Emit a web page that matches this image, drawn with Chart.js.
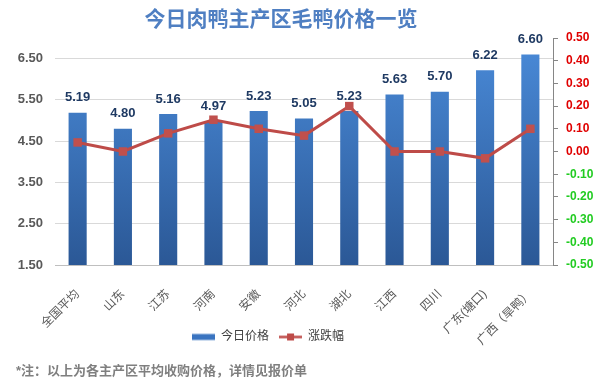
<!DOCTYPE html>
<html>
<head>
<meta charset="utf-8">
<script src="https://cdn.jsdelivr.net/npm/chart.js@4/dist/chart.umd.min.js"></script>
<style>
  html, body { margin: 0; padding: 0; background: #fff; }
</style>
</head>
<body>
<canvas id="duck_chart" width="596" height="389"></canvas>
<script>
// data
var regions = ['全国平均', '山东', '江苏', '河南', '安徽', '河北', '湖北', '江西', '四川', '广东(塘口)', '广西（旱鸭）']
var prices = [5.19, 4.80, 5.16, 4.97, 5.23, 5.05, 5.23, 5.63, 5.70, 6.22, 6.60]
var changes = [0.04, 0.00, 0.08, 0.14, 0.10, 0.07, 0.20, 0.00, 0.00, -0.03, 0.10]
var price_ticks = [1.5, 2.5, 3.5, 4.5, 5.5, 6.5]
var change_ticks = [-0.5, -0.4, -0.3, -0.2, -0.1, 0, 0.1, 0.2, 0.3, 0.4, 0.5]
var title_text = '今日肉鸭主产区毛鸭价格一览'
var note_text = '*注：以上为各主产区平均收购价格，详情见报价单'

var FONT = "'Liberation Sans', 'Noto Sans CJK SC', sans-serif"
var BAR_COLOR = '#3a74c0'
var LINE_COLOR = '#be4b48'

// small legend icons
function legendIcon(kind){
  var c = document.createElement('canvas')
  c.width = 23
  c.height = 9
  var g = c.getContext('2d')
  if (kind == 'bar') {
    g.fillStyle = BAR_COLOR
    g.fillRect(0, 1.5, 23, 6)
  } else {
    g.strokeStyle = LINE_COLOR
    g.lineWidth = 2.5
    g.beginPath(); g.moveTo(0, 4.5); g.lineTo(23, 4.5); g.stroke()
    g.fillStyle = LINE_COLOR
    g.fillRect(8, 1, 7, 7)
  }
  return c
}

// title, footnote and bar value labels
var textPlugin = {
  id: 'textPlugin',
  afterLayout(chart){
    // legend sits a bit left of centre in the original
    chart.legend.left -= 30
    chart.legend.right -= 30
  },
  afterDatasetsDraw(chart){
    var ctx = chart.ctx
    ctx.save()
    ctx.fillStyle = '#1f3a63'
    ctx.font = 'bold 13px ' + FONT
    ctx.textAlign = 'center'
    ctx.textBaseline = 'middle'
    chart.getDatasetMeta(1).data.forEach(function(bar, i){
      ctx.fillText(prices[i].toFixed(2), bar.x, bar.y - 15)
    })
    ctx.restore()
  },
  afterDraw(chart){
    var ctx = chart.ctx
    ctx.save()
    ctx.textBaseline = 'middle'
    ctx.textAlign = 'center'
    ctx.fillStyle = '#4f7fc2'
    ctx.font = 'bold 21px ' + FONT
    ctx.fillText(title_text, 281, 20)
    ctx.textAlign = 'left'
    ctx.fillStyle = '#7f7f7f'
    ctx.font = 'bold 13px ' + FONT
    ctx.fillText(note_text, 16, 371)
    ctx.restore()
  }
}

var duck_canvas = document.getElementById('duck_chart')
var duck_chart = new Chart(duck_canvas.getContext('2d'), {
  type: 'bar',
  data: {
    labels: regions,
    datasets: [{
      type: 'line',
      label: '涨跌幅',
      data: changes,
      yAxisID: 'y1',
      borderColor: LINE_COLOR,
      backgroundColor: LINE_COLOR,
      borderWidth: 3,
      pointStyle: 'rect',
      pointRadius: 6,
      pointBackgroundColor: '#c0504d',
      pointBorderWidth: 0,
      tension: 0
    }, {
      label: '今日价格',
      data: prices,
      yAxisID: 'y',
      backgroundColor: function(ctx){
        var area = ctx.chart.chartArea
        if (!area) return BAR_COLOR
        var g = ctx.chart.ctx.createLinearGradient(0, area.top, 0, area.bottom)
        g.addColorStop(0, '#4a8bd9')
        g.addColorStop(1, '#2b5896')
        return g
      },
      barPercentage: 0.4,
      categoryPercentage: 1
    }]
  },
  options: {
    responsive: false,
    animation: false,
    layout: { padding: { top: 38, bottom: 36, left: 0, right: 0 } },
    plugins: {
      tooltip: { enabled: false },
      legend: {
        position: 'bottom',
        labels: {
          usePointStyle: true,
          pointStyleWidth: 23,
          boxHeight: 9,
          padding: 10,
          color: '#404040',
          font: { family: FONT, size: 12 },
          generateLabels: function(){
            return [
              { text: '今日价格', pointStyle: legendIcon('bar'), fontColor: '#404040', datasetIndex: 1, lineWidth: 0, hidden: false },
              { text: '涨跌幅', pointStyle: legendIcon('line'), fontColor: '#404040', datasetIndex: 0, lineWidth: 0, hidden: false }
            ]
          }
        }
      }
    },
    scales: {
      x: {
        grid: { display: false },
        border: { display: true, color: '#bfbfbf' },
        ticks: {
          color: '#595959',
          font: { family: FONT, size: 12 },
          minRotation: 45,
          maxRotation: 45,
          padding: 14,
          autoSkip: false
        },
        afterFit: function(scale){
          scale.height = 56
          // let the slanted labels run down past the axis box, as in the original
          scale._computeLabelArea = function(){}
        }
      },
      y: {
        position: 'left',
        min: 1.5,
        max: 7.0,
        border: { display: false },
        grid: { color: '#d9d9d9', drawTicks: false },
        ticks: {
          color: '#595959',
          padding: 12,
          font: { family: FONT, size: 13, weight: 'bold' },
          callback: function(v){ return Number(v).toFixed(2) }
        },
        afterBuildTicks: function(scale){
          scale.ticks = price_ticks.map(function(v){ return { value: v } })
        },
        afterFit: function(scale){ scale.width = 55 }
      },
      y1: {
        position: 'right',
        min: -0.5,
        max: 0.5,
        border: { display: true, color: '#868686' },
        grid: { drawOnChartArea: false, tickLength: 5, color: '#868686' },
        ticks: {
          padding: 8,
          font: { family: FONT, size: 12, weight: 'bold' },
          color: function(ctx){ return ctx.tick.value < -0.001 ? '#22cc22' : '#e00000' },
          callback: function(v){ return Number(v).toFixed(2) }
        },
        afterBuildTicks: function(scale){
          scale.ticks = change_ticks.map(function(v){ return { value: v } })
        },
        afterFit: function(scale){ scale.width = 43 }
      }
    }
  },
  plugins: [textPlugin]
})
</script>
</body>
</html>
